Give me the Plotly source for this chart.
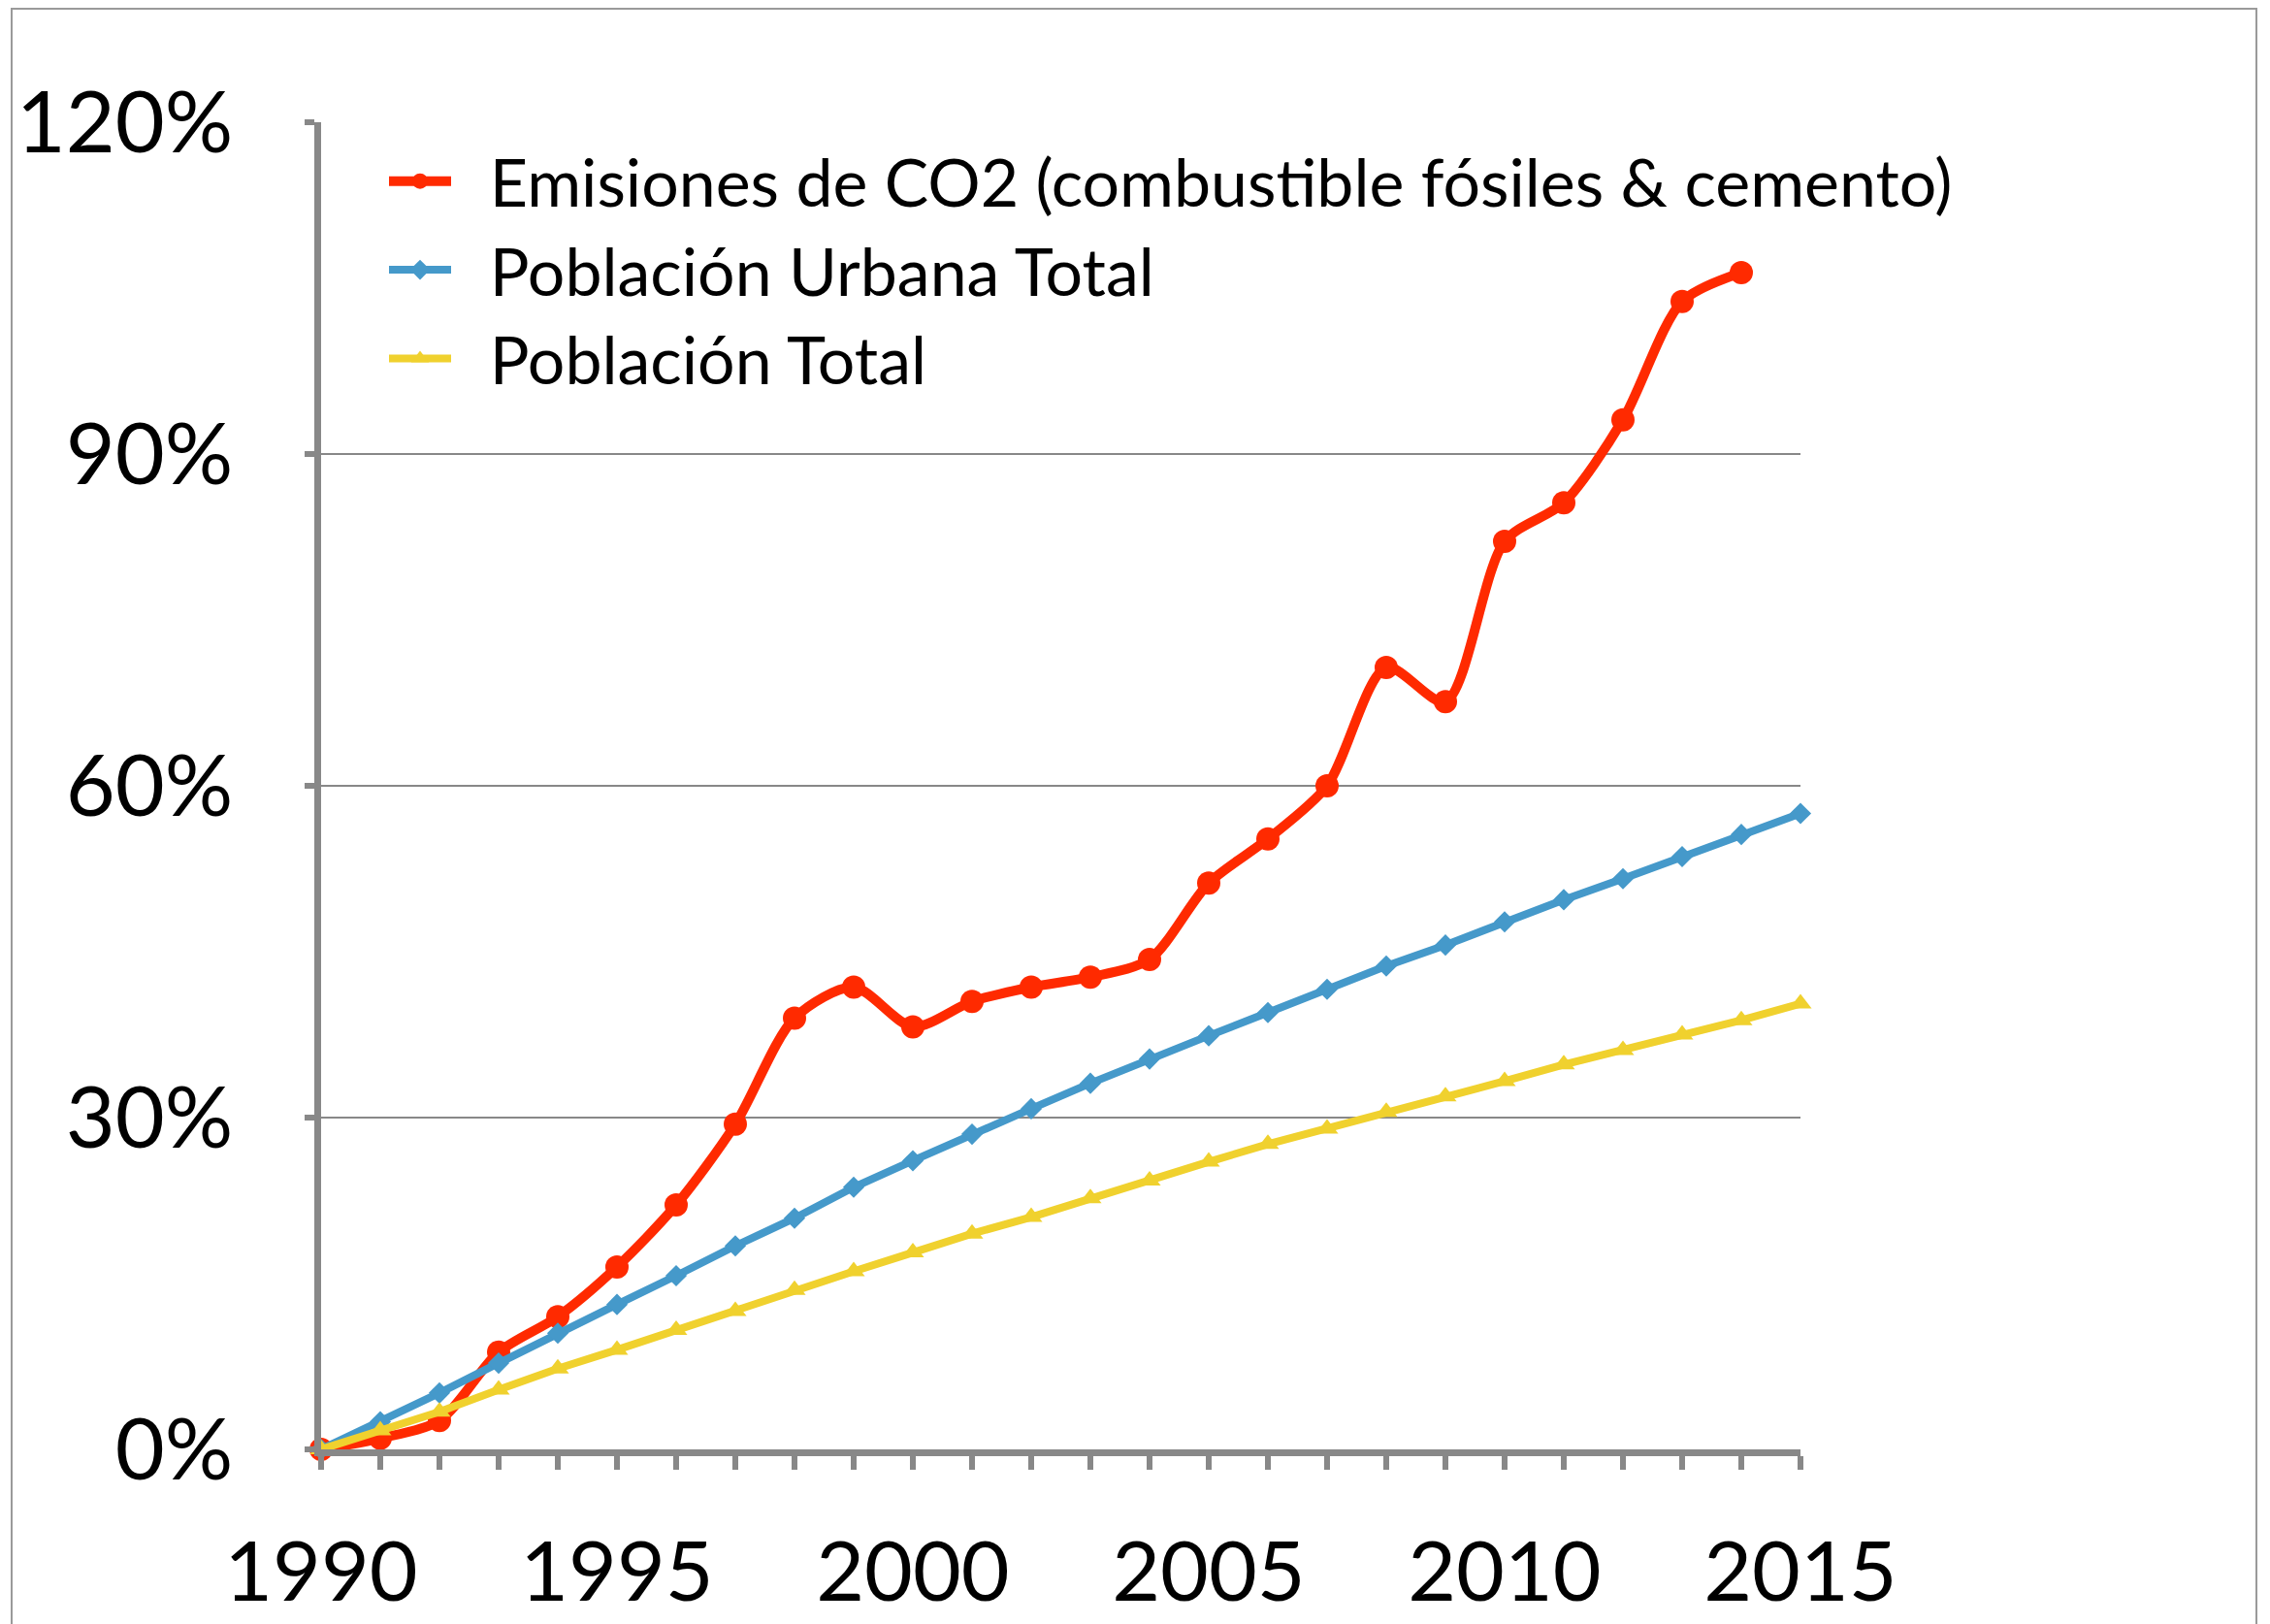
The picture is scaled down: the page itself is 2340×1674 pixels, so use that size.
import plotly.graph_objects as go

# ---- data ----
years_co2 = list(range(1990, 2015))
co2 = [0.0, 1.0, 2.6, 8.8, 12.0, 16.5, 22.1, 29.4, 39.0, 41.8, 38.2, 40.5, 41.8,
       42.7, 44.3, 51.2, 55.2, 60.0, 70.7, 67.6, 82.1, 85.6, 93.1, 103.8, 106.4]

years_pop = list(range(1990, 2016))
urban = [0.0, 2.5, 5.1, 7.8, 10.5, 13.1, 15.7, 18.4, 20.9, 23.7, 26.1, 28.5, 30.8,
         33.1, 35.3, 37.4, 39.5, 41.6, 43.7, 45.6, 47.7, 49.7, 51.6, 53.6, 55.6, 57.5]
total = [0.0, 1.7, 3.4, 5.4, 7.3, 9.0, 10.8, 12.5, 14.4, 16.1, 17.8, 19.5, 21.0,
         22.7, 24.3, 26.0, 27.6, 29.0, 30.5, 31.9, 33.3, 34.8, 36.1, 37.5, 38.8, 40.3]

names = ["Emisiones de CO2 (combustible fósiles &amp; cemento)",
         "Población Urbana Total",
         "Población Total"]
y_ticks = [0, 30, 60, 90, 120]
y_ticklabels = ["0%", "30%", "60%", "90%", "120%"]

RED = "#FF2A00"
BLUE = "#4599CA"
YELLOW = "#F0D12E"
GREY = "#888888"
FONT = "Lato"
PAD = "\u00a0\u00a0"

# page offset of the plotly div (default body margin)
OFF = 8
W, H = 2324, 1666
# desired plot area in page pixels
PL, PR, PT, PB = 331, 1856, 126, 1494
L = PL - OFF
R = OFF + W - PR
T = PT - OFF
B = OFF + H - PB

fig = go.Figure()
fig.add_trace(go.Scatter(
    x=years_co2, y=co2, name=PAD + names[0], mode="lines+markers",
    line=dict(color=RED, width=10, shape="spline", smoothing=0.8),
    marker=dict(symbol="circle", size=24, color=RED),
    cliponaxis=False))
fig.add_trace(go.Scatter(
    x=years_pop, y=urban, name=PAD + names[1], mode="lines+markers",
    line=dict(color=BLUE, width=8),
    marker=dict(symbol="diamond", size=17, color=BLUE),
    cliponaxis=False))
fig.add_trace(go.Scatter(
    x=years_pop, y=total, name=PAD + names[2], mode="lines+markers",
    line=dict(color=YELLOW, width=8),
    marker=dict(symbol="triangle-up", size=20, color=YELLOW),
    cliponaxis=False))

pw = PR - PL
ph = PB - PT
def px_x(p):
    return (p - PL) / pw
def px_y(p):
    return 1 - (p - PT) / ph

fig.update_layout(
    width=W, height=H,
    margin=dict(l=L, r=R, t=T, b=B, pad=0, autoexpand=False),
    paper_bgcolor="white", plot_bgcolor="white",
    font=dict(family=FONT, color="black"),
    showlegend=True,
    legend=dict(x=px_x(396), y=px_y(136), xanchor="left", yanchor="top",
                font=dict(size=68, family=FONT, color="black"),
                itemwidth=64, itemsizing="trace",
                bgcolor="rgba(0,0,0,0)", tracegroupgap=0),
    xaxis=dict(range=[1990, 2015], tickmode="linear", tick0=1990, dtick=5,
               showgrid=False, zeroline=False, automargin=False,
               showline=True, linecolor=GREY, linewidth=7,
               ticks="outside", ticklen=14, tickwidth=6, tickcolor=GREY,
               minor=dict(dtick=1, tick0=1990, ticks="outside", ticklen=14,
                          tickwidth=6, tickcolor=GREY, showgrid=False),
               tickfont=dict(size=86, family=FONT, color="black"),
               ticklabelstandoff=32),
    yaxis=dict(range=[0, 120], tickmode="array", tickvals=y_ticks,
               ticktext=y_ticklabels, automargin=False,
               showgrid=True, gridcolor=GREY, gridwidth=2, zeroline=False,
               showline=True, linecolor=GREY, linewidth=7,
               ticks="outside", ticklen=10, tickwidth=6, tickcolor=GREY,
               tickfont=dict(size=88, family=FONT, color="black"),
               ticklabelstandoff=56),
    shapes=[dict(type="rect", xref="paper", yref="paper",
                 x0=px_x(12), x1=px_x(2326), y0=px_y(1700), y1=px_y(9),
                 line=dict(color="#9a9a9a", width=2), fillcolor="rgba(0,0,0,0)",
                 layer="below")],
)

fig.write_html("out.html")
